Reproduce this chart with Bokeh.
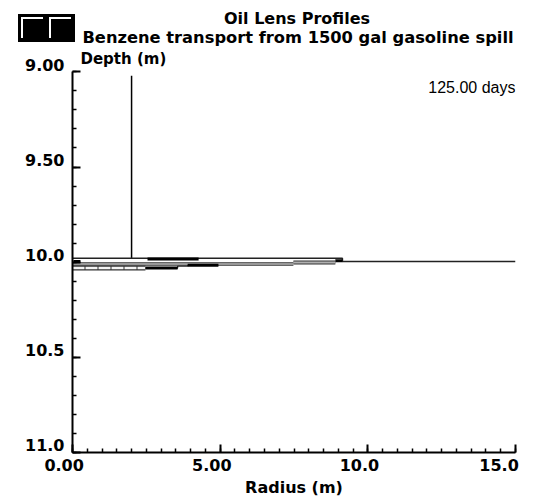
from bokeh.plotting import figure
from bokeh.models import Range1d, FixedTicker, Label, LinearAxis, Div
from bokeh.layouts import column
from bokeh.embed import file_html
from bokeh.resources import INLINE

# ---------------- data ----------------
title_1 = "Oil Lens Profiles"
title_2 = "Benzene transport from 1500 gal gasoline spill"
y_title = "Depth (m)"
x_title = "Radius (m)"
time_label = "125.00 days"

x_ticks = [0.0, 5.0, 10.0, 15.0]
x_tick_labels = ["0.00", "5.00", "10.0", "15.0"]
x_minor = [0.0, 0.5, 1.0, 1.5, 2.0, 2.5, 3.0, 3.5, 4.0, 4.5, 5.0, 5.5, 6.0, 6.5,
           7.0, 7.5, 8.0, 8.5, 9.0, 9.5, 10.0, 10.5, 11.0, 11.5, 12.0, 12.5,
           13.0, 13.5, 14.0, 14.5, 15.0]
y_ticks = [9.0, 9.5, 10.0, 10.5, 11.0]
y_tick_labels = ["9.00", "9.50", "10.0", "10.5", "11.0"]
y_minor = [9.0, 9.1, 9.2, 9.3, 9.4, 9.5, 9.6, 9.7, 9.8, 9.9, 10.0,
           10.1, 10.2, 10.3, 10.4, 10.5, 10.6, 10.7, 10.8, 10.9, 11.0]

# vertical source line
src_r = [2.0, 2.0]
src_d = [9.02, 9.979]

# upper profile
top_r = [0.0, 9.14, 9.14, 15.0]
top_d = [9.979, 9.979, 9.997, 9.997]

# lens band (double line)
band_r = [0.0, 7.48]
band_up_d = [10.004, 10.004]
band_lo_d = [10.015, 10.015]

# grey bar
grey_r = [7.48, 8.9]
grey_d = [10.002, 10.002]

# lower dashed double line
dash_r = [0.0, 2.47]
dash_d = [10.030, 10.030]

# lower step profile
bot_r = [2.47, 3.56, 3.56, 3.9, 3.9, 4.94]
bot_d = [10.031, 10.031, 10.021, 10.021, 10.016, 10.016]

# thick black segments
seg_r0 = [2.54, 8.9, 0.03, 3.9, 2.47]
seg_r1 = [4.27, 9.14, 0.27, 4.94, 3.56]
seg_d = [9.983, 9.993, 9.996, 10.016, 10.031]

# ---------------- layout constants ----------------
W, H = 535, 499
Y_TOP = 8.625          # depth at top edge of canvas (frame extends to the top)
Y_LAB_SHIFT = 0.037    # lift y tick labels so their baseline sits on the tick

p = figure(width=W, height=H, x_range=Range1d(0, 15), y_range=Range1d(11.0, Y_TOP),
           output_backend="svg", toolbar_location=None,
           min_border_left=72, min_border_right=20, min_border_top=0, min_border_bottom=46)
p.grid.visible = False
p.outline_line_color = None
p.background_fill_color = "white"
p.border_fill_color = "white"

# main axes: line + ticks only
p.yaxis.bounds = (9.0, 11.0)
for ax, tk, mn in ((p.xaxis[0], x_ticks, x_minor), (p.yaxis[0], y_ticks, y_minor)):
    ax.ticker = FixedTicker(ticks=tk, minor_ticks=mn)
    ax.major_label_overrides = {t: "" for t in tk}
    ax.major_label_text_font_size = "1px"
    ax.major_label_standoff = 0
    ax.axis_line_color = "black"
    ax.axis_line_width = 2
    ax.major_tick_in = 8
    ax.major_tick_out = 0
    ax.minor_tick_in = 4
    ax.minor_tick_out = 0
    ax.major_tick_line_width = 2
    ax.minor_tick_line_width = 1.5
    ax.major_tick_line_color = "black"
    ax.minor_tick_line_color = "black"

# label axes
p.extra_y_ranges = {"ylab": Range1d(11.0 + Y_LAB_SHIFT, Y_TOP + Y_LAB_SHIFT)}
ylab = LinearAxis(y_range_name="ylab", ticker=FixedTicker(ticks=y_ticks),
                  major_label_overrides={v: t for v, t in zip(y_ticks, y_tick_labels)})
xlab = LinearAxis(ticker=FixedTicker(ticks=x_ticks),
                  major_label_overrides={v: t + "\u00a0\u00a0\u00a0" for v, t in zip(x_ticks, x_tick_labels)},
                  axis_label=x_title)
for ax in (ylab, xlab):
    ax.axis_line_color = None
    ax.major_tick_line_color = None
    ax.minor_tick_line_color = None
    ax.major_tick_in = 0
    ax.major_tick_out = 0
    ax.minor_tick_in = 0
    ax.minor_tick_out = 0
    ax.major_label_text_font = "DejaVu Sans"
    ax.major_label_text_font_style = "bold"
    ax.major_label_text_font_size = "16px"
    ax.major_label_text_color = "black"
ylab.major_label_standoff = 8
xlab.major_label_standoff = 3
xlab.axis_label_standoff = 0
xlab.axis_label_text_font = "DejaVu Sans"
xlab.axis_label_text_font_style = "bold"
xlab.axis_label_text_font_size = "16px"
xlab.axis_label_text_color = "black"
p.add_layout(ylab, "left")
p.add_layout(xlab, "below")

# ---------------- glyphs ----------------
p.line(src_r, src_d, line_color="black", line_width=1.5)
p.line(top_r, top_d, line_color="#222222", line_width=1.5)
p.line(band_r, band_up_d, line_color="#333333", line_width=1.2)
p.line(band_r, band_lo_d, line_color="#333333", line_width=1.2)
p.line(grey_r, grey_d, line_color="#333333", line_width=4)
p.line(grey_r, grey_d, line_color="#b0b0b0", line_width=2)
p.line(dash_r, dash_d, line_color="#333333", line_width=5)
p.line(dash_r, dash_d, line_color="#f4f4f4", line_width=2.5, line_dash="12 1")
p.line(bot_r, bot_d, line_color="#222222", line_width=1.2)
p.segment(x0=seg_r0, y0=seg_d, x1=seg_r1, y1=seg_d, line_color="black", line_width=3)

# ---------------- texts inside the (extended) frame ----------------
bold = dict(text_font="DejaVu Sans", text_font_style="bold", text_color="black",
            text_baseline="alphabetic")

p.add_layout(Label(x=7.5, y=9.0, x_offset=3, y_offset=53.5, text=title_1, text_align="center",
                   text_font_size="16px", **bold))
p.add_layout(Label(x=7.5, y=9.0, x_offset=4, y_offset=34, text=title_2, text_align="center",
                   text_font_size="16.3px", **bold))
p.add_layout(Label(x=0.0, y=9.0, x_offset=8, y_offset=12.5, text=y_title, text_align="left",
                   text_font_size="15px", **bold))
p.add_layout(Label(x=15.0, y=9.0, x_offset=0, y_offset=-15.5, text=time_label,
                   text_align="right", text_baseline="alphabetic", text_font_size="16px",
                   text_font="Liberation Sans", text_color="black"))

# window-control icon in the top-left corner
icon_html = (
    '<div style="position:relative;width:57px;height:28px;background:#000;">'
    '<div style="position:absolute;left:3px;top:3px;width:22px;height:21px;'
    'border-left:2px solid #fff;border-top:2px solid #fff;"></div>'
    '<div style="position:absolute;left:31px;top:3px;width:22px;height:21px;'
    'border-left:2px solid #fff;border-top:2px solid #fff;"></div>'
    '</div>'
)
icon = Div(text=icon_html, width=57, height=28,
           styles={"position": "absolute", "left": "13px", "top": "9px", "z-index": "10"})

layout = column(p, icon)
open("out.html", "w").write(file_html(layout, INLINE))
